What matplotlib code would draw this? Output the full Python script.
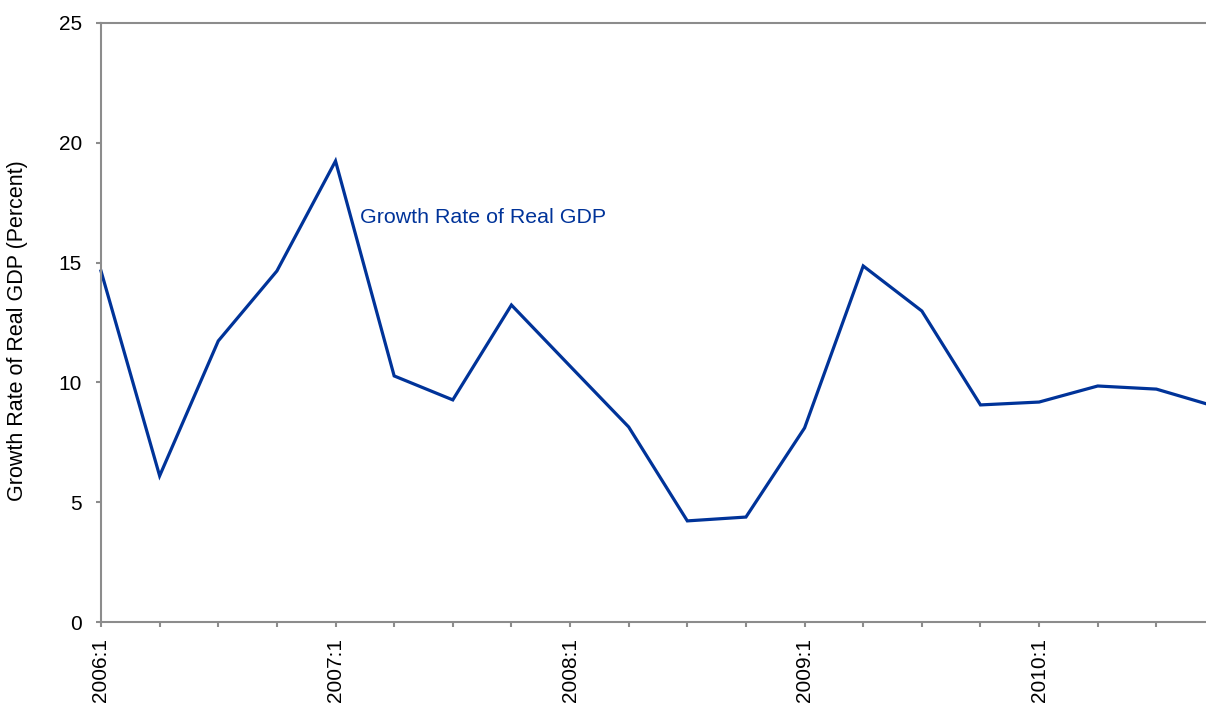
import matplotlib
matplotlib.use("Agg")
import matplotlib.pyplot as plt

plt.rcParams['font.family'] = ['Liberation Sans', 'DejaVu Sans']

quarters = ["2006:1", "2006:2", "2006:3", "2006:4",
            "2007:1", "2007:2", "2007:3", "2007:4",
            "2008:1", "2008:2", "2008:3", "2008:4",
            "2009:1", "2009:2", "2009:3", "2009:4",
            "2010:1", "2010:2", "2010:3", "2010:4"]
growth = [14.65, 6.1, 11.73, 14.65,
          19.24, 10.27, 9.27, 13.23,
          10.68, 8.14, 4.22, 4.38,
          8.1, 14.86, 12.98, 9.06,
          9.18, 9.85, 9.72, 9.0]
year_labels = ["2006:1", "2007:1", "2008:1", "2009:1", "2010:1"]

W, H = 1206, 704
fig = plt.figure(figsize=(W / 100, H / 100), dpi=100)
ax = fig.add_axes([101 / W, (H - 622) / H, (1215 - 101) / W, (622 - 23) / H])

x = list(range(len(quarters)))
line_color = "#003399"
ax.plot(x, growth, color=line_color, linewidth=2.3, solid_joinstyle="miter", clip_on=False)

ax.set_xlim(0, len(quarters) - 1)
ax.set_ylim(0, 25)
ax.set_yticks(range(0, 26, 5))
ax.set_xticks(x)
ax.set_xticklabels([q if q in year_labels else "" for q in quarters], rotation=90)

spine_color = "#8c8c8c"
for side in ["left", "bottom", "top"]:
    ax.spines[side].set_color(spine_color)
    ax.spines[side].set_linewidth(1.5)
ax.spines["right"].set_visible(False)
ax.tick_params(axis="both", direction="out", length=3.6, width=1.5, color=spine_color,
               labelsize=15, labelcolor="black")
ax.tick_params(axis="y", pad=10)
ax.tick_params(axis="x", pad=8)

ax.set_ylabel("Growth Rate of Real GDP (Percent)", fontsize=15.5, va="center")
ax.yaxis.set_label_coords((18 - 101) / (1215 - 101), 0.487)
ax.text(4.42, 16.9, "Growth Rate of Real GDP", color=line_color, fontsize=15.4,
        ha="left", va="center")

fig.savefig("out.png", dpi=100)
